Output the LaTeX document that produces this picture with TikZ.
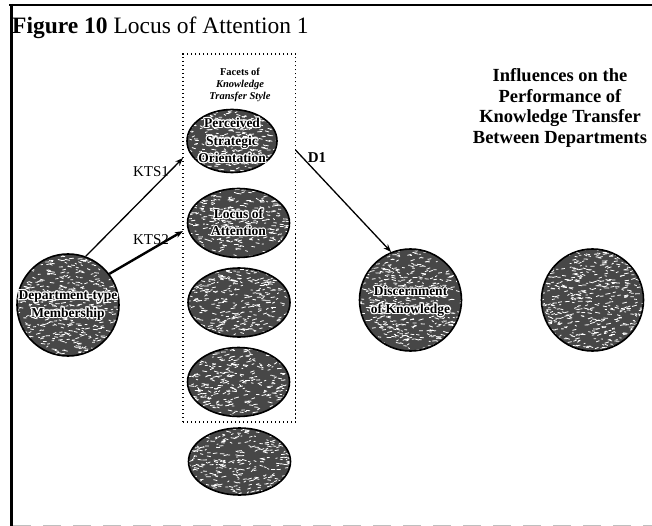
\documentclass[tikz,border=0pt]{standalone}
\usepackage{fontspec}
\setmainfont{Liberation Serif}
\usepackage{contour}
\contourlength{1.1pt}
\contournumber{16}
\usetikzlibrary{shapes.geometric,arrows.meta,calc}

\begin{document}
\begin{tikzpicture}[x=1pt,y=-1pt,
  % mottled dark fill of the construct shapes
  grain/.style={fill=black!72, draw=black, line width=1.6pt,
    path picture={
      \foreach \k in {1,...,700}{
        \pgfmathsetmacro\dx{120*rnd-60}
        \pgfmathsetmacro\dy{120*rnd-60}
        \pgfmathsetmacro\dl{1.5+3.5*rnd}
        \pgfmathsetmacro\dh{3*rnd-1.5}
        \draw[white,line width=0.8pt]
          ([shift={(\dx,\dy)}]path picture bounding box.center) -- ++(\dl,\dh);
      }}},
  facet/.style={grain, ellipse, inner sep=0pt, minimum width=102pt, minimum height=69pt},
  construct/.style={grain, circle, inner sep=0pt, minimum size=102pt},
  blobtext/.style={align=center, font=\bfseries\fontsize{13.5}{17.5}\selectfont, inner sep=0pt},
  link/.style={line width=1.3pt, -{Stealth[length=8pt,width=6pt]}},
  linklabel/.style={font=\fontsize{15}{17}\selectfont, inner sep=0pt},
]
\pgfmathsetseed{4217}
\useasboundingbox (0,0) rectangle (652,526);

% page frame
\draw[line width=2.4pt] (9,5) -- (652,5);
\draw[line width=3pt] (11.5,4) -- (11.5,526);
\draw[line width=0.5pt, black!25, dash pattern=on 18pt off 12pt] (13,525.7) -- (652,525.7);

% title
\node[anchor=base west, inner sep=0pt, font=\fontsize{23.5}{27}\selectfont] (title) at (12,34)
  {\textbf{Figure 10} Locus of Attention 1};

% dotted group of facets
\node[draw, line width=1.3pt, dash pattern=on 1.4pt off 2.6pt, inner sep=0pt,
  minimum width=112.5pt, minimum height=368pt] (facets) at (239.25,238) {};
\node[align=center, inner sep=0pt, font=\bfseries\fontsize{10.5}{12}\selectfont] (facetshead) at (240,84.5)
  {Facets of\\\textit{Knowledge}\\\textit{Transfer Style}};

% facet ellipses
\node[facet, minimum width=90pt, minimum height=63pt] (pso) at (232,141) {};
\node[facet] (loa) at (238.5,223) {};
\node[facet] (f3) at (239,302.5) {};
\node[facet] (f4) at (238.5,382) {};
\node[facet, minimum height=67pt] (f5) at (239.5,461.5) {};

% constructs
\node[construct] (dept) at (68,305) {};
\node[construct] (disc) at (410.5,300) {};
\node[construct] (perf) at (592.5,300) {};

% names of the constructs, outlined in white
\node[blobtext] (psotext) at (pso.center)
  {\contour{white}{Perceived}\\\contour{white}{Strategic}\\\contour{white}{Orientation}};
\node[blobtext] (loatext) at (loa.center) {\contour{white}{Locus of}\\\contour{white}{Attention}};
\node[blobtext] (depttext) at ([yshift=-1pt]dept.center)
  {\contour{white}{Department-type}\\\contour{white}{Membership}};
\node[blobtext] (disctext) at ([yshift=-2pt]disc.center)
  {\contour{white}{Discernment}\\\contour{white}{of Knowledge}};

% heading of the model
\node[align=center, inner sep=0pt, font=\bfseries\fontsize{18.5}{20.5}\selectfont] (heading) at (560,108)
  {Influences on the\\Performance of\\Knowledge Transfer\\Between Departments};

% arrow end points on the facet group
\coordinate (kts1end) at (183,158);
\coordinate (kts2end) at (183,231);
\coordinate (d1start) at (295.5,150);

% paths
\draw[link] (dept.70) -- (kts1end);
\draw[link, line width=2.4pt] (dept.37) -- (kts2end);
\draw[link] (d1start) -- (disc.112);

\node[linklabel] (kts1) at (151,172) {KTS1};
\node[linklabel] (kts2) at (151,240) {KTS2};
\node[linklabel, font=\bfseries\fontsize{15}{17}\selectfont] (d1) at (317,158) {D1};
\end{tikzpicture}
\end{document}
